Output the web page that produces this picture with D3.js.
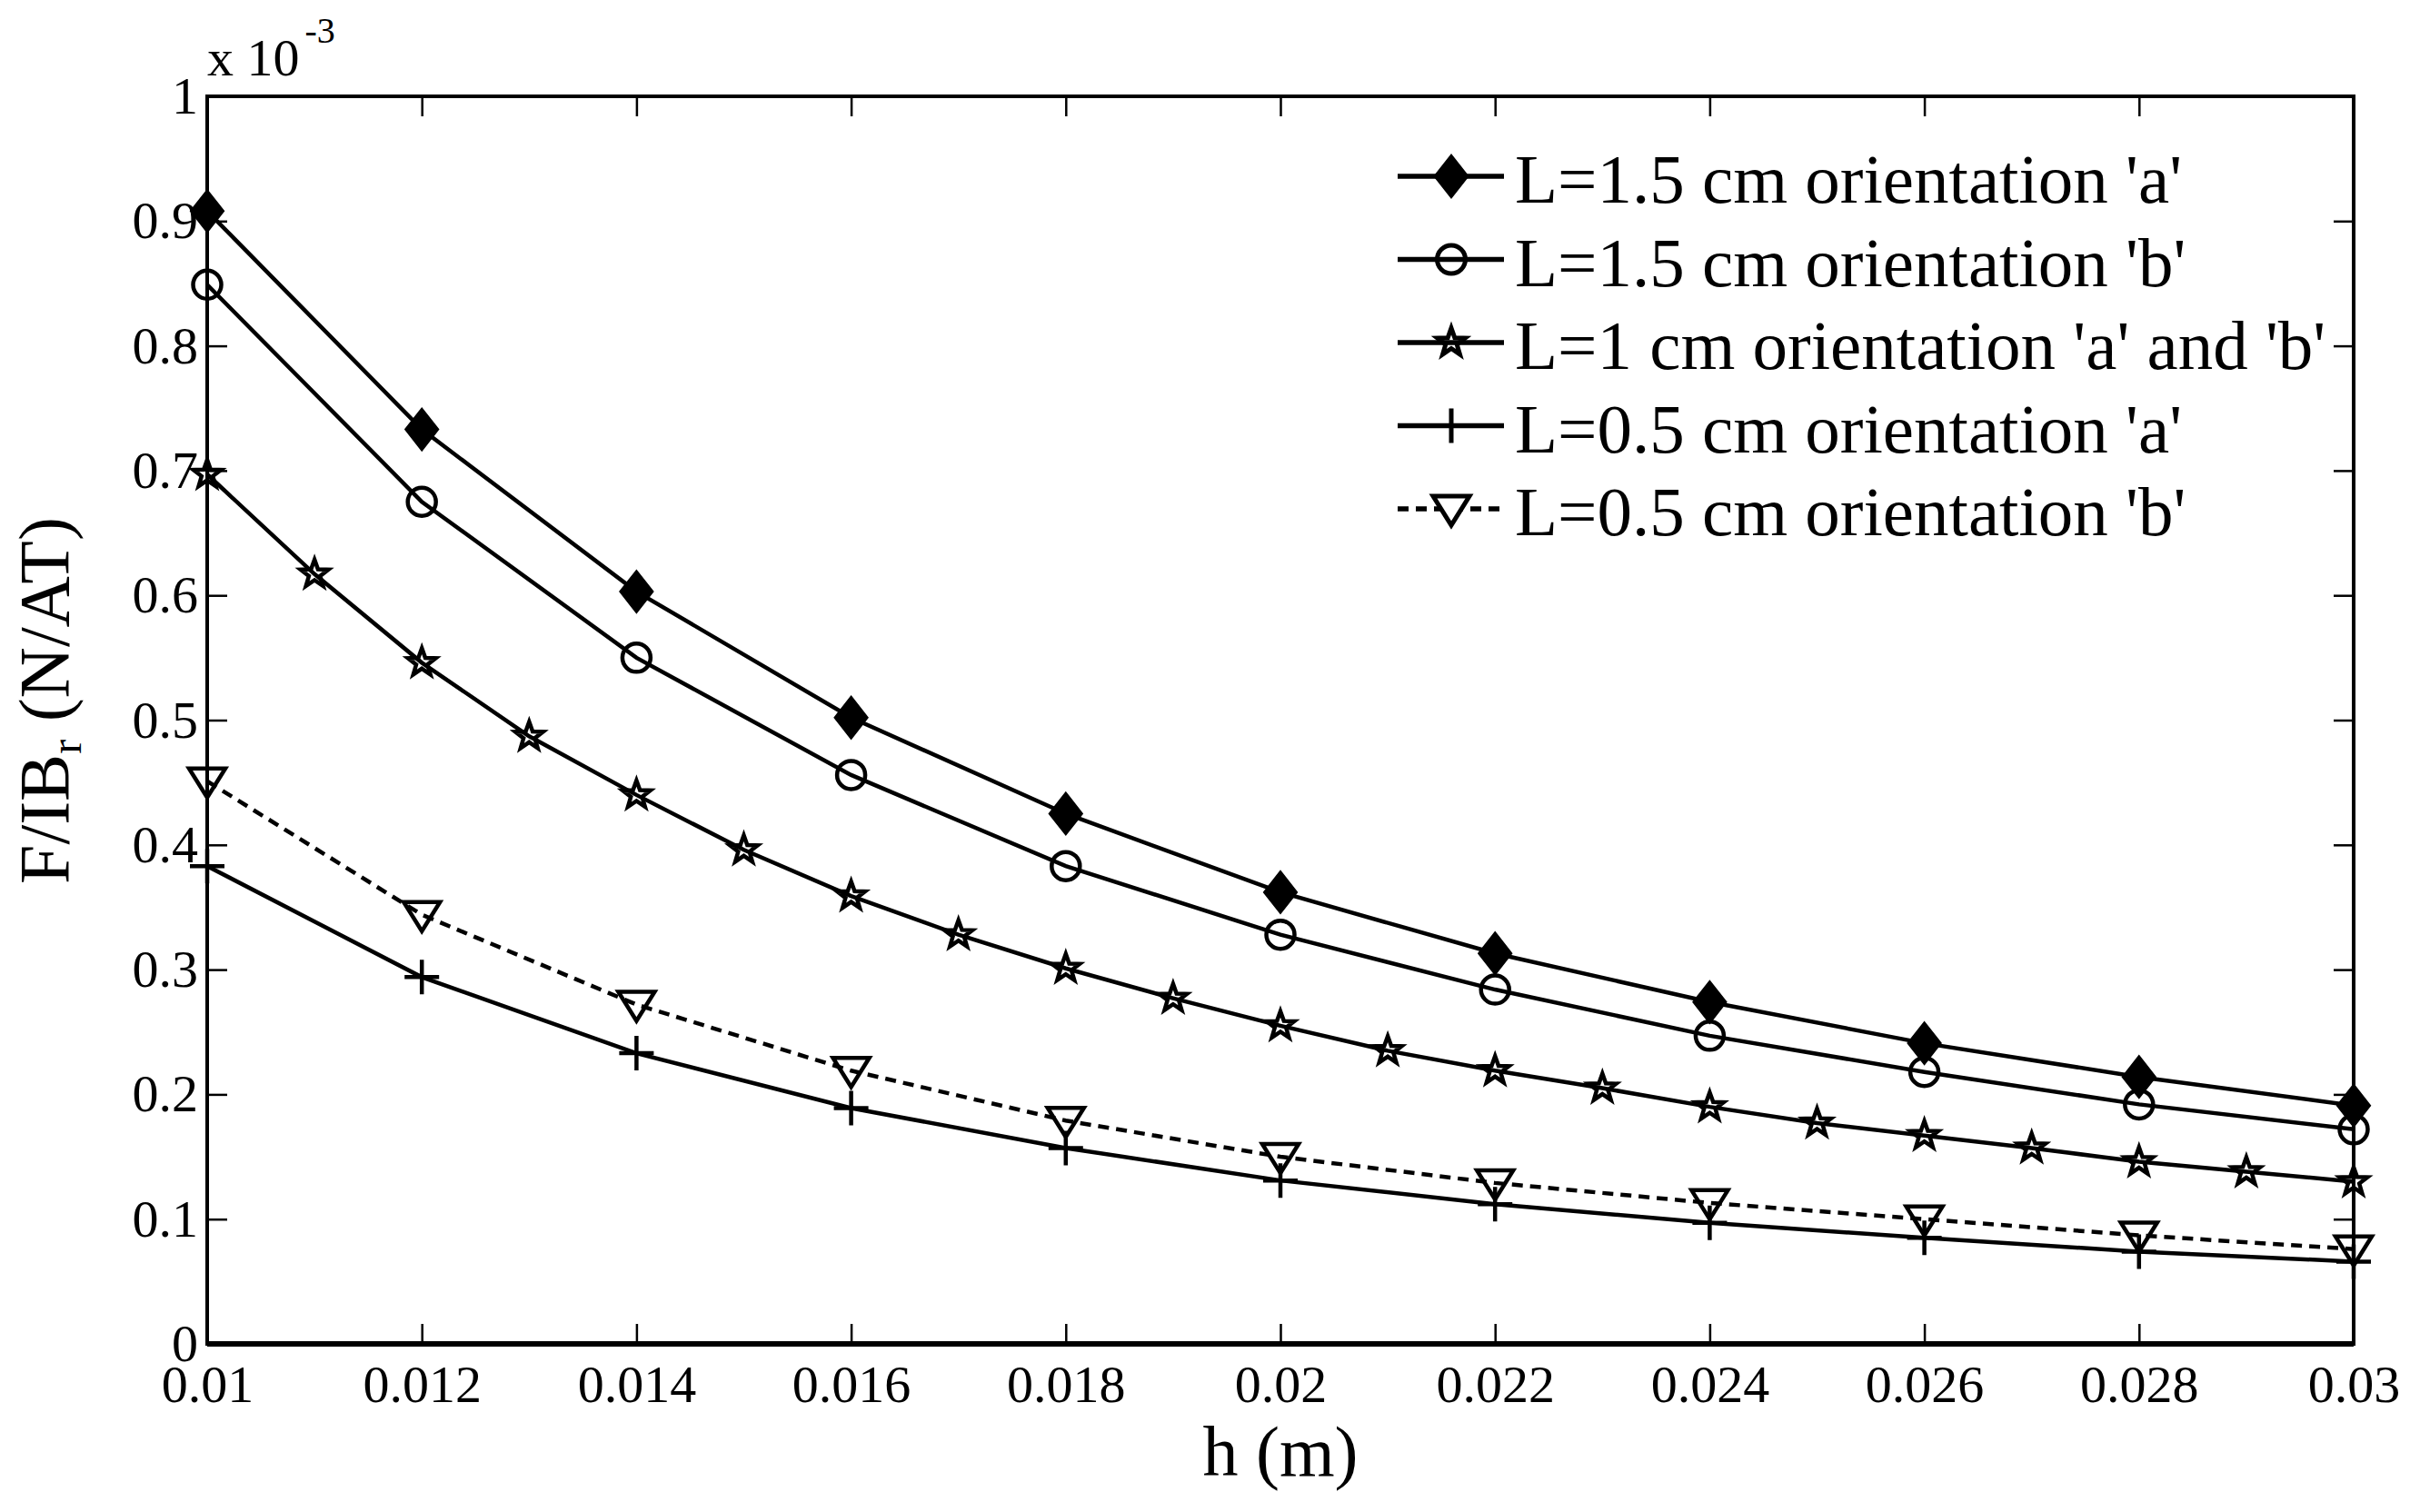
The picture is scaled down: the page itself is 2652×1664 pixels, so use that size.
<!DOCTYPE html>
<html>
<head>
  <meta charset="utf-8">
  <script src="https://cdn.jsdelivr.net/npm/d3@7/dist/d3.min.js"></script>
  <style>
    body { margin: 0; background: #fff; }
    svg text { font-family: "Liberation Serif", "Times New Roman", serif; fill: #000; }
  </style>
</head>
<body>
<svg id="chart" width="2652" height="1664"></svg>

<script>
  // values in units of 1e-3 N/AT (the axis carries the "x 10^-3" multiplier)
  var hCoarse = [0.01, 0.012, 0.014, 0.016, 0.018, 0.02, 0.022, 0.024, 0.026, 0.028, 0.03];
  var hFine = [0.01, 0.011, 0.012, 0.013, 0.014, 0.015, 0.016, 0.017, 0.018, 0.019, 0.02,
               0.021, 0.022, 0.023, 0.024, 0.025, 0.026, 0.027, 0.028, 0.029, 0.03];

  var l15a = [0.908, 0.733, 0.603, 0.502, 0.425, 0.362, 0.313, 0.274, 0.241, 0.214, 0.191];
  var l15b = [0.849, 0.675, 0.550, 0.456, 0.383, 0.328, 0.284, 0.247, 0.218, 0.192, 0.172];
  var l10ab = [0.697, 0.617, 0.546, 0.487, 0.440, 0.396, 0.359, 0.328, 0.301, 0.277, 0.255,
               0.235, 0.219, 0.205, 0.190, 0.177, 0.167, 0.157, 0.146, 0.138, 0.130];
  var l05a = [0.383, 0.294, 0.233, 0.189, 0.157, 0.131, 0.112, 0.097, 0.085, 0.074, 0.066];
  var l05b = [0.451, 0.344, 0.272, 0.219, 0.179, 0.150, 0.129, 0.113, 0.100, 0.087, 0.076];

  var legendLabels = ["L=1.5 cm orientation 'a'", "L=1.5 cm orientation 'b'",
                      "L=1 cm orientation 'a' and 'b'", "L=0.5 cm orientation 'a'",
                      "L=0.5 cm orientation 'b'"];
  var xTicks = [0.01, 0.012, 0.014, 0.016, 0.018, 0.02, 0.022, 0.024, 0.026, 0.028, 0.03];
  var yTicks = [0, 0.1, 0.2, 0.3, 0.4, 0.5, 0.6, 0.7, 0.8, 0.9, 1];

  var series = [
    { name: legendLabels[0], xs: hCoarse, ys: l15a, marker: 'diamond', dash: null },
    { name: legendLabels[1], xs: hCoarse, ys: l15b, marker: 'circle', dash: null },
    { name: legendLabels[2], xs: hFine, ys: l10ab, marker: 'star', dash: null },
    { name: legendLabels[3], xs: hCoarse, ys: l05a, marker: 'plus', dash: null },
    { name: legendLabels[4], xs: hCoarse, ys: l05b, marker: 'triangle', dash: '12,8' }
  ];

  // plot box (window.top is read-only, so keep these names distinct)
  var pLeft = 228, pRight = 2590, pTop = 106, pBottom = 1479;
  var lw = 4.5;
  var svg = d3.select('#chart');

  var x = d3.scaleLinear().domain([0.01, 0.03]).range([pLeft, pRight]);
  var y = d3.scaleLinear().domain([0, 1]).range([pBottom, pTop]);

  // marker outlines, centred on 0,0
  function markerPath(type) {
    if (type == 'diamond') return 'M0,-21L16.5,0L0,21L-16.5,0Z';
    if (type == 'circle') return 'M15.5,0A15.5,15.5 0 1,1 -15.5,0A15.5,15.5 0 1,1 15.5,0Z';
    if (type == 'plus') return 'M-19,0H19M0,-19V19';
    if (type == 'triangle') return 'M-20,-14H20L0,18Z';
    if (type == 'star') {
      var p = [];
      for (var i = 0; i < 10; i++) {
        var r = i % 2 ? 6.5 : 16;
        var a = -Math.PI / 2 + i * Math.PI / 5;
        p.push([r * Math.cos(a), r * Math.sin(a)]);
      }
      return 'M' + p.join('L') + 'Z';
    }
  }

  // ticks, inward on all four sides
  function styleAxis(g) {
    g.select('.domain').remove();
    g.selectAll('.tick line').attr('stroke', '#000').attr('stroke-width', 2.5);
    g.selectAll('.tick text').style('font-size', '58px').attr('fill', '#000');
  }

  svg.append('g')
    .attr('transform', 'translate(0,' + pBottom + ')')
    .call(d3.axisBottom(x).tickValues(xTicks).tickFormat(d => String(d))
      .tickSizeInner(-22).tickSizeOuter(0).tickPadding(23))
    .call(styleAxis);

  svg.append('g')
    .attr('transform', 'translate(0,' + pTop + ')')
    .call(d3.axisTop(x).tickValues(xTicks).tickFormat('').tickSizeInner(-22).tickSizeOuter(0))
    .call(styleAxis);

  svg.append('g')
    .attr('transform', 'translate(' + pLeft + ',0)')
    .call(d3.axisLeft(y).tickValues(yTicks).tickFormat(d => String(d))
      .tickSizeInner(-22).tickSizeOuter(0).tickPadding(10))
    .call(styleAxis);

  svg.append('g')
    .attr('transform', 'translate(' + pRight + ',0)')
    .call(d3.axisRight(y).tickValues(yTicks).tickFormat('').tickSizeInner(-22).tickSizeOuter(0))
    .call(styleAxis);

  // frame
  svg.append('rect')
    .attr('x', pLeft).attr('y', pTop)
    .attr('width', pRight - pLeft).attr('height', pBottom - pTop)
    .attr('fill', 'none').attr('stroke', '#000').attr('stroke-width', 4);
  svg.append('line')
    .attr('x1', pLeft).attr('x2', pRight).attr('y1', pBottom).attr('y2', pBottom)
    .attr('stroke', '#000').attr('stroke-width', 6);

  // exponent label
  var expo = svg.append('text').attr('x', 228).attr('y', 83).style('font-size', '58px');
  expo.append('tspan').text('x 10');
  expo.append('tspan').attr('dx', 6).attr('dy', -36).style('font-size', '40px').text('-3');

  // lines and markers
  var line = d3.line().x(d => x(d[0])).y(d => y(d[1]));

  series.forEach(s => {
    var pts = s.xs.map((h, i) => [h, s.ys[i]]);
    svg.append('path')
      .datum(pts)
      .attr('d', line)
      .attr('fill', 'none')
      .attr('stroke', '#000')
      .attr('stroke-width', lw)
      .attr('stroke-dasharray', s.dash);

    svg.append('g').selectAll('path')
      .data(pts)
      .join('path')
      .attr('transform', d => 'translate(' + x(d[0]) + ',' + y(d[1]) + ')')
      .attr('d', markerPath(s.marker))
      .attr('fill', s.marker == 'diamond' ? '#000' : 'none')
      .attr('stroke', '#000')
      .attr('stroke-width', lw);
  });

  // legend
  var legend = svg.append('g');
  series.forEach((s, i) => {
    var ly = 194 + i * 91.5;
    legend.append('line')
      .attr('x1', 1538).attr('x2', 1655).attr('y1', ly).attr('y2', ly)
      .attr('stroke', '#000').attr('stroke-width', 5.5)
      .attr('stroke-dasharray', s.dash);
    legend.append('path')
      .attr('transform', 'translate(1597,' + ly + ')')
      .attr('d', markerPath(s.marker))
      .attr('fill', s.marker == 'diamond' ? '#000' : (s.dash ? '#fff' : 'none'))
      .attr('stroke', '#000').attr('stroke-width', 5);
    legend.append('text')
      .attr('x', 1667).attr('y', ly + 29)
      .style('font-size', '77px')
      .text(s.name);
  });

  // axis titles
  svg.append('text')
    .attr('x', (pLeft + pRight) / 2).attr('y', 1624)
    .attr('text-anchor', 'middle')
    .style('font-size', '78px')
    .text('h (m)');

  var yl = svg.append('text')
    .attr('transform', 'translate(75,771) rotate(-90)')
    .attr('text-anchor', 'middle')
    .style('font-size', '78px');
  yl.append('tspan').text('F/IB');
  yl.append('tspan').attr('dy', 14).style('font-size', '48px').text('r');
  yl.append('tspan').attr('dy', -14).text(' (N/AT)');
</script>
</body>
</html>
